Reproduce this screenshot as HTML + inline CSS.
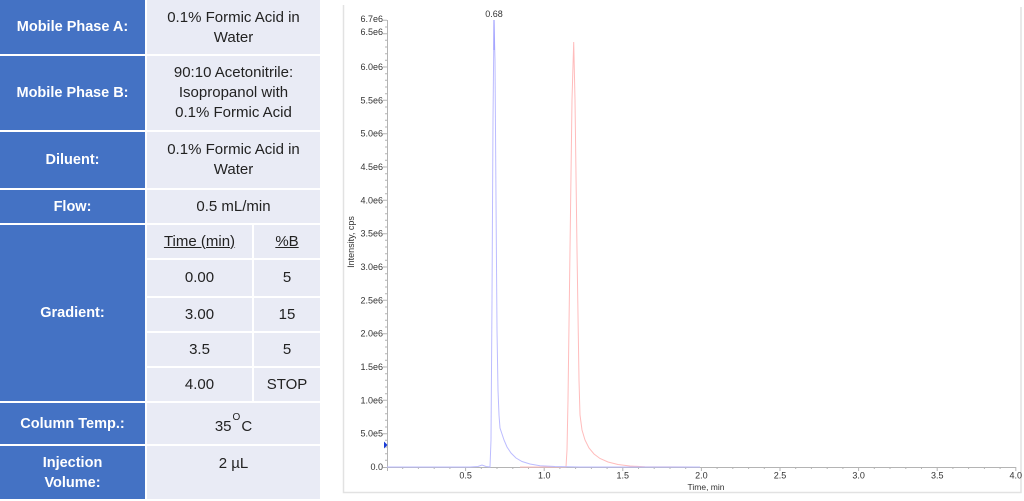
<!DOCTYPE html>
<html><head><meta charset="utf-8">
<style>
html,body{margin:0;padding:0;background:#fff;width:1024px;height:501px;overflow:hidden;}
body{position:relative;font-family:"Liberation Sans",Arial,sans-serif;}
.b{position:absolute;left:0;width:145px;background:#4472C4;color:#fff;font-weight:bold;font-size:14.5px;line-height:20px;text-align:center;display:flex;align-items:center;justify-content:center;}
.v{position:absolute;background:#E9EBF5;color:#222;font-size:15px;line-height:20px;text-align:center;display:flex;align-items:center;justify-content:center;}
u{text-decoration:underline;}
svg{position:absolute;left:0;top:0;}
</style></head><body>

<div class="b" style="top:0;height:54px;">Mobile Phase A:</div>
<div class="v" style="left:147px;width:173px;top:0;height:54px;padding-top:2px;box-sizing:border-box;">0.1% Formic Acid in<br>Water</div>

<div class="b" style="top:56px;height:74px;">Mobile Phase B:</div>
<div class="v" style="left:147px;width:173px;top:56px;height:74px;">90:10 Acetonitrile:<br>Isopropanol with<br>0.1% Formic Acid</div>

<div class="b" style="top:132px;height:56px;">Diluent:</div>
<div class="v" style="left:147px;width:173px;top:132px;height:56px;">0.1% Formic Acid in<br>Water</div>

<div class="b" style="top:190px;height:33px;">Flow:</div>
<div class="v" style="left:147px;width:173px;top:190px;height:33px;">0.5 mL/min</div>

<div class="b" style="top:225px;height:176px;">Gradient:</div>
<div class="v" style="left:147px;width:105px;top:225px;height:33px;"><u>Time (min)</u></div>
<div class="v" style="left:254px;width:66px;top:225px;height:33px;"><u>%B</u></div>
<div class="v" style="left:147px;width:105px;top:260px;height:36px;">0.00</div>
<div class="v" style="left:254px;width:66px;top:260px;height:36px;">5</div>
<div class="v" style="left:147px;width:105px;top:298px;height:33px;">3.00</div>
<div class="v" style="left:254px;width:66px;top:298px;height:33px;">15</div>
<div class="v" style="left:147px;width:105px;top:333px;height:33px;">3.5</div>
<div class="v" style="left:254px;width:66px;top:333px;height:33px;">5</div>
<div class="v" style="left:147px;width:105px;top:368px;height:33px;">4.00</div>
<div class="v" style="left:254px;width:66px;top:368px;height:33px;">STOP</div>

<div class="b" style="top:403px;height:41px;">Column Temp.:</div>
<div class="v" style="left:147px;width:173px;top:403px;height:41px;padding-top:6px;box-sizing:border-box;">35<span style="font-size:10px;position:relative;top:-9px;margin:0 1px;">O</span>C</div>

<div class="b" style="top:446px;height:53px;">Injection<br>Volume:</div>
<div class="v" style="left:147px;width:173px;top:446px;height:53px;align-items:flex-start;padding-top:8px;box-sizing:border-box;">2 µL</div>

<svg width="1024" height="501" viewBox="0 0 1024 501" xmlns="http://www.w3.org/2000/svg">
  <!-- frame -->
  <path d="M343.5 5 V492.5 H1021 V7" fill="none" stroke="#e2e2e2" stroke-width="1.5"/>
  <!-- axes -->
  <path d="M387.5 20 V467.5 H1016" fill="none" stroke="#b4b4b4" stroke-width="1"/>
  <!-- y ticks -->
  <path stroke="#b4b4b4" stroke-width="1" fill="none" d="
M383 467.5h4 M385 460.3h2 M385 453.7h2 M385 447h2 M385 440.3h2
M383 433.7h4 M385 427h2 M385 420.3h2 M385 413.7h2 M385 407h2
M383 400.3h4 M385 393.7h2 M385 387h2 M385 380.3h2 M385 373.7h2
M383 367h4 M385 360.3h2 M385 353.7h2 M385 347h2 M385 340.3h2
M383 333.7h4 M385 327h2 M385 320.3h2 M385 313.7h2 M385 307h2
M383 300.3h4 M385 293.7h2 M385 287h2 M385 280.3h2 M385 273.7h2
M383 267h4 M385 260.3h2 M385 253.7h2 M385 247h2 M385 240.3h2
M383 233.7h4 M385 227h2 M385 220.3h2 M385 213.7h2 M385 207h2
M383 200.3h4 M385 193.7h2 M385 187h2 M385 180.3h2 M385 173.7h2
M383 167h4 M385 160.3h2 M385 153.7h2 M385 147h2 M385 140.3h2
M383 133.7h4 M385 127h2 M385 120.3h2 M385 113.7h2 M385 107h2
M383 100.3h4 M385 93.7h2 M385 87h2 M385 80.3h2 M385 73.7h2
M383 67h4 M385 60.3h2 M385 53.7h2 M385 47h2 M385 40.3h2
M383 33.7h4 M385 27h2 M383 20.3h4"/>
  <!-- x ticks -->
  <path stroke="#b4b4b4" stroke-width="1" fill="none" d="
M387.5 467v4 M402.7 467v2 M418.4 467v2 M434.2 467v2 M449.9 467v2
M465.6 467v4 M481.3 467v2 M497 467v2 M512.8 467v2 M528.5 467v2
M544.2 467v4 M559.9 467v2 M575.6 467v2 M591.4 467v2 M607.1 467v2
M622.8 467v4 M638.5 467v2 M654.2 467v2 M670 467v2 M685.7 467v2
M701.4 467v4 M717.1 467v2 M732.8 467v2 M748.6 467v2 M764.3 467v2
M780 467v4 M795.7 467v2 M811.4 467v2 M827.2 467v2 M842.9 467v2
M858.6 467v4 M874.3 467v2 M890 467v2 M905.8 467v2 M921.5 467v2
M937.2 467v4 M952.9 467v2 M968.6 467v2 M984.4 467v2 M1000.1 467v2
M1015.8 467v4"/>
  <!-- y labels -->
  <g font-family="Liberation Sans, Arial, sans-serif" font-size="9" fill="#333" text-anchor="end">
    <text x="383" y="22">6.7e6</text>
    <text x="383" y="35">6.5e6</text>
    <text x="383" y="70">6.0e6</text>
    <text x="383" y="103.5">5.5e6</text>
    <text x="383" y="136.5">5.0e6</text>
    <text x="383" y="170">4.5e6</text>
    <text x="383" y="203.5">4.0e6</text>
    <text x="383" y="236.5">3.5e6</text>
    <text x="383" y="270">3.0e6</text>
    <text x="383" y="303.5">2.5e6</text>
    <text x="383" y="336.5">2.0e6</text>
    <text x="383" y="370">1.5e6</text>
    <text x="383" y="403.5">1.0e6</text>
    <text x="383" y="436.5">5.0e5</text>
    <text x="383" y="470">0.0</text>
  </g>
  <!-- x labels -->
  <g font-family="Liberation Sans, Arial, sans-serif" font-size="9" fill="#333" text-anchor="middle">
    <text x="465.6" y="478.5">0.5</text>
    <text x="544.2" y="478.5">1.0</text>
    <text x="622.8" y="478.5">1.5</text>
    <text x="701.4" y="478.5">2.0</text>
    <text x="780" y="478.5">2.5</text>
    <text x="858.6" y="478.5">3.0</text>
    <text x="937.2" y="478.5">3.5</text>
    <text x="1015.8" y="478.5">4.0</text>
    <text x="706" y="490" font-size="8.5">Time, min</text>
    <text x="494" y="17">0.68</text>
  </g>
  <text x="0" y="0" font-family="Liberation Sans, Arial, sans-serif" font-size="9" fill="#333" text-anchor="middle" transform="translate(354 242) rotate(-90)">Intensity, cps</text>
  <!-- red trace -->
  <polyline fill="none" stroke="#ffbcbc" stroke-width="1" points="520,467 566,467 567,450 568,400 570,250 572,100 573.7,42 575,100 577,250 579,380 580,415 582,430 585,440 589,448 594,454 600,458.5 608,462 618,464.5 630,466 645,466.8 695,467"/>
  <!-- blue trace -->
  <polyline fill="none" stroke="#bcbcff" stroke-width="1" points="387,467 470,467 478,466.5 482,465 486,466.5 490,467 491,440 492,300 493,120 494,20 495,60 496,200 497,330 498,390 499,415 500,428 502,434 504,440 507,447 511,453 516,458 522,461.5 530,464 540,465.8 555,466.5 580,467 700,467"/>
  <line x1="494" y1="20" x2="494" y2="50" stroke="#9090ff" stroke-width="1"/>
  <!-- marker -->
  <polygon points="384,441.5 387.5,445 384,448.5" fill="#1a3cd6"/>
</svg>
</body></html>
